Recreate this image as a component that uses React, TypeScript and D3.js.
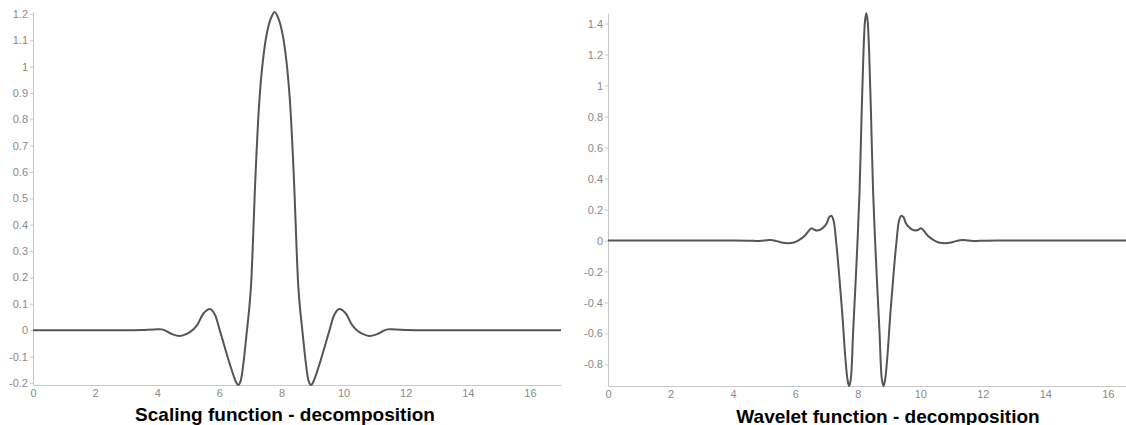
import React, { useEffect, useRef } from "react";
import * as d3 from "d3";

// Tick values
const xTicks = [0, 2, 4, 6, 8, 10, 12, 14, 16];
const scalingTicks = [-0.2, -0.1, 0, 0.1, 0.2, 0.3, 0.4, 0.5, 0.6, 0.7, 0.8, 0.9, 1, 1.1, 1.2];
const waveletTicks = [-0.8, -0.6, -0.4, -0.2, 0, 0.2, 0.4, 0.6, 0.8, 1, 1.2, 1.4];

// Scaling function (decomposition) samples
const scalingX = [
  0, 1, 2, 3, 3.5, 3.9, 4.15, 4.3, 4.5, 4.73, 4.95, 5.15, 5.3, 5.5, 5.7, 5.85, 6.0,
  6.15, 6.3, 6.45, 6.55, 6.61, 6.68, 6.77, 6.88, 6.96, 7.02, 7.08, 7.14, 7.2, 7.29,
  7.4, 7.52, 7.65, 7.78, 7.91, 8.04, 8.16, 8.27, 8.36, 8.42, 8.48, 8.54, 8.6, 8.68,
  8.79, 8.88, 8.95, 9.01, 9.11, 9.26, 9.41, 9.56, 9.71, 9.86, 10.06, 10.26, 10.41,
  10.61, 10.83, 11.06, 11.26, 11.41, 11.66, 12.06, 12.5, 13, 14, 15, 16, 17,
];
const scalingY = [
  0, 0, 0, 0, 0.001, 0.003, 0.003, -0.004, -0.016, -0.022, -0.014, 0.002, 0.022, 0.065,
  0.08, 0.06, 0.005, -0.055, -0.115, -0.17, -0.2, -0.208, -0.195, -0.13, -0.01, 0.08,
  0.17, 0.33, 0.52, 0.68, 0.874, 1.02, 1.12, 1.18, 1.207, 1.18, 1.12, 1.02, 0.874,
  0.68, 0.52, 0.33, 0.17, 0.08, -0.01, -0.13, -0.195, -0.208, -0.2, -0.17, -0.115,
  -0.055, 0.005, 0.06, 0.08, 0.065, 0.022, 0.002, -0.014, -0.022, -0.016, -0.004,
  0.003, 0.003, 0.001, 0, 0, 0, 0, 0, 0,
];

// Wavelet function (decomposition) samples
const waveletX = [
  0, 1, 2, 3, 4, 4.5, 4.76, 5.0, 5.19, 5.4, 5.6, 5.77, 5.95, 6.1, 6.3, 6.45, 6.52, 6.6,
  6.7, 6.8, 6.9, 7.0, 7.08, 7.15, 7.22, 7.3, 7.4, 7.5, 7.6, 7.67, 7.72, 7.77, 7.85,
  7.96, 8.05, 8.12, 8.18, 8.23, 8.27, 8.31, 8.36, 8.42, 8.49, 8.58, 8.69, 8.77, 8.82,
  8.87, 8.94, 9.04, 9.14, 9.24, 9.32, 9.39, 9.46, 9.54, 9.64, 9.74, 9.84, 9.94, 10.02,
  10.09, 10.24, 10.44, 10.59, 10.77, 10.94, 11.14, 11.35, 11.54, 11.78, 12.04, 12.5,
  13, 14, 15, 16, 17,
];
const waveletY = [
  0, 0, 0, 0, 0, -0.001, -0.003, 0, 0.003, -0.004, -0.015, -0.018, -0.013, 0, 0.03,
  0.068, 0.079, 0.07, 0.064, 0.07, 0.085, 0.11, 0.15, 0.16, 0.13, 0, -0.22, -0.47,
  -0.76, -0.9, -0.939, -0.9, -0.58, -0.13, 0.3, 0.82, 1.22, 1.42, 1.466, 1.42, 1.22,
  0.82, 0.3, -0.13, -0.58, -0.9, -0.939, -0.9, -0.76, -0.47, -0.22, 0, 0.13, 0.16,
  0.15, 0.11, 0.085, 0.07, 0.064, 0.07, 0.079, 0.068, 0.03, 0, -0.013, -0.018, -0.015,
  -0.004, 0.003, 0, -0.003, -0.001, 0, 0, 0, 0, 0, 0,
];

const titles = ["Scaling function - decomposition", "Wavelet function - decomposition"];

const WIDTH = 1126;
const HEIGHT = 425;
const FONT = "'Liberation Sans', Arial, Helvetica, sans-serif";

type Panel = {
  xs: number[];
  ys: number[];
  yTicks: number[];
  x0: number;
  x1: number;
  y0: number;
  y1: number;
  title: string;
  titleX: number;
  titleY: number;
};

const panels: Panel[] = [
  { xs: scalingX, ys: scalingY, yTicks: scalingTicks, x0: 33, x1: 561, y0: 12, y1: 385, title: titles[0], titleX: 285, titleY: 421 },
  { xs: waveletX, ys: waveletY, yTicks: waveletTicks, x0: 608, x1: 1139, y0: 13.3, y1: 386, title: titles[1], titleX: 888, titleY: 423 },
];

const fmt = (v: number) => String(+v.toFixed(1));

export default function App() {
  const ref = useRef<SVGSVGElement | null>(null);

  useEffect(() => {
    const svg = d3.select(ref.current);
    svg.selectAll("*").remove();

    panels.forEach((p) => {
      const data = p.xs.map((x, i) => [x, p.ys[i]] as [number, number]);
      const x = d3.scaleLinear().domain([0, 17]).range([p.x0, p.x1]);
      const y = d3
        .scaleLinear()
        .domain(d3.extent(p.ys) as [number, number])
        .range([p.y1, p.y0]);

      const g = svg.append("g");

      const xAxis = g
        .append("g")
        .attr("transform", `translate(0,${p.y1})`)
        .call(
          d3
            .axisBottom(x)
            .tickValues(xTicks)
            .tickSize(0)
            .tickSizeOuter(0)
            .tickPadding(4)
            .tickFormat((d) => fmt(+d))
        );

      const yAxis = g
        .append("g")
        .attr("transform", `translate(${p.x0},0)`)
        .call(
          d3
            .axisLeft(y)
            .tickValues(p.yTicks)
            .tickSize(3)
            .tickSizeOuter(0)
            .tickPadding(2)
            .tickFormat((d) => fmt(+d))
        );

      [xAxis, yAxis].forEach((ax) => {
        ax.select(".domain").attr("stroke", "#c8c8c8");
        ax.selectAll(".tick line").attr("stroke", "#c8c8c8");
        ax.selectAll(".tick text")
          .attr("fill", "#8a8a8a")
          .style("font-family", FONT)
          .style("font-size", "11px");
      });

      const line = d3
        .line<[number, number]>()
        .x((d) => x(d[0]))
        .y((d) => y(d[1]))
        .curve(d3.curveCatmullRom.alpha(0.5));

      g.append("path")
        .datum(data)
        .attr("d", line)
        .attr("fill", "none")
        .attr("stroke", "#555")
        .attr("stroke-width", 2)
        .attr("stroke-linejoin", "round");

      g.append("text")
        .attr("x", p.titleX)
        .attr("y", p.titleY)
        .attr("text-anchor", "middle")
        .attr("fill", "#000")
        .style("font-family", FONT)
        .style("font-size", "19px")
        .style("font-weight", "bold")
        .text(p.title);
    });
  }, []);

  return (
    <div style={{ position: "absolute", left: 0, top: 0, width: WIDTH, height: HEIGHT, overflow: "hidden" }}>
      <svg ref={ref} width={WIDTH} height={HEIGHT} style={{ display: "block", background: "#fff" }} />
    </div>
  );
}
